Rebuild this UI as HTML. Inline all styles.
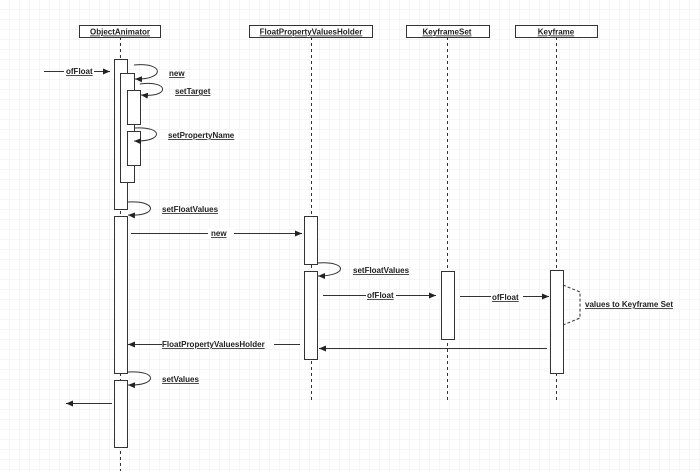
<!DOCTYPE html>
<html><head><meta charset="utf-8"><style>
html,body{margin:0;padding:0;background:#fff}
svg{display:block}
text{font-family:"Liberation Sans",sans-serif;font-size:8px;font-weight:bold;fill:#222;text-decoration:underline}
</style></head><body>
<svg width="700" height="471" viewBox="0 0 700 471" xmlns="http://www.w3.org/2000/svg">
<defs>
<pattern id="g" width="10" height="10" patternUnits="userSpaceOnUse"><path d="M10 0V10H0" fill="none" stroke="#ececec" stroke-width="1"/></pattern>
<marker id="a" markerWidth="8" markerHeight="8" refX="7" refY="4" orient="auto" markerUnits="userSpaceOnUse"><path d="M0 1L7 4L0 7Z" fill="#222"/></marker>
</defs>
<rect width="700" height="471" fill="url(#g)"/>
<g stroke="#333" stroke-width="1" stroke-dasharray="3,3" fill="none">
<line x1="120.5" y1="37" x2="120.5" y2="471"/>
<line x1="311.5" y1="37" x2="311.5" y2="400"/>
<line x1="447.5" y1="37" x2="447.5" y2="400"/>
<line x1="556.5" y1="37" x2="556.5" y2="400"/>
</g>
<g fill="#fff" stroke="#333" stroke-width="1">
<rect x="79.5" y="25.5" width="81" height="12"/>
<rect x="249.5" y="25.5" width="123" height="12"/>
<rect x="406.5" y="25.5" width="83" height="12"/>
<rect x="515.5" y="25.5" width="82" height="12"/>
</g>
<g text-anchor="middle">
<text x="120" y="34.5">ObjectAnimator</text>
<text x="311" y="34.5">FloatPropertyValuesHolder</text>
<text x="447" y="34.5">KeyframeSet</text>
<text x="556" y="34.5">Keyframe</text>
</g>
<g fill="#fff" stroke="#333" stroke-width="1">
<rect x="114.5" y="59.5" width="13" height="150"/>
<rect x="120.5" y="73.5" width="14" height="109"/>
<rect x="127.5" y="90.5" width="13" height="34"/>
<rect x="127.5" y="131.5" width="13" height="34"/>
<rect x="114.5" y="216.5" width="13" height="157"/>
<rect x="114.5" y="380.5" width="13" height="67"/>
<rect x="304.5" y="216.5" width="13" height="48"/>
<rect x="304.5" y="271.5" width="13" height="88"/>
<rect x="441.5" y="271.5" width="13" height="68"/>
<rect x="550.5" y="270.5" width="13" height="103"/>
</g>
<g stroke="#333" stroke-width="1" fill="none">
<line x1="44" y1="71.5" x2="110" y2="71.5" marker-end="url(#a)"/>
<path d="M134 65C165 62 165 80 135 79" marker-end="url(#a)"/>
<path d="M140 84C170 80 170 98 141 95" marker-end="url(#a)"/>
<path d="M134 128C164 126 164 142 134 141" marker-end="url(#a)"/>
<path d="M128 202C158 200 158 217 128 215" marker-end="url(#a)"/>
<line x1="131" y1="233.5" x2="302" y2="233.5" marker-end="url(#a)"/>
<path d="M318 263C348 261 348 276 318 276" marker-end="url(#a)"/>
<line x1="323" y1="295.5" x2="436" y2="295.5" marker-end="url(#a)"/>
<line x1="460" y1="296.5" x2="549" y2="296.5" marker-end="url(#a)"/>
<line x1="547" y1="348.5" x2="319" y2="348.5" marker-end="url(#a)"/>
<line x1="300" y1="344.5" x2="128" y2="344.5" marker-end="url(#a)"/>
<path d="M128 372C158 370 158 386 128 385" marker-end="url(#a)"/>
<line x1="112" y1="403.5" x2="66" y2="403.5" marker-end="url(#a)"/>
<path d="M563 285L580 292L580 318L563 325" stroke-dasharray="3,2"/>
</g>
<g fill="#fff">
<rect x="64" y="66" width="30" height="10"/>
<rect x="208" y="228" width="26" height="10"/>
<rect x="366" y="290" width="30" height="10"/>
<rect x="491" y="291" width="32" height="10"/>
<rect x="162" y="339" width="112" height="10"/>
</g>
<text x="66" y="74">ofFloat</text>
<text x="169" y="76">new</text>
<text x="175" y="94">setTarget</text>
<text x="168" y="138">setPropertyName</text>
<text x="162" y="212">setFloatValues</text>
<text x="211" y="236">new</text>
<text x="353" y="273">setFloatValues</text>
<text x="367" y="298">ofFloat</text>
<text x="492" y="300">ofFloat</text>
<text x="585" y="307">values to Keyframe Set</text>
<text x="162" y="347">FloatPropertyValuesHolder</text>
<text x="162" y="382">setValues</text>
</svg>
</body></html>
